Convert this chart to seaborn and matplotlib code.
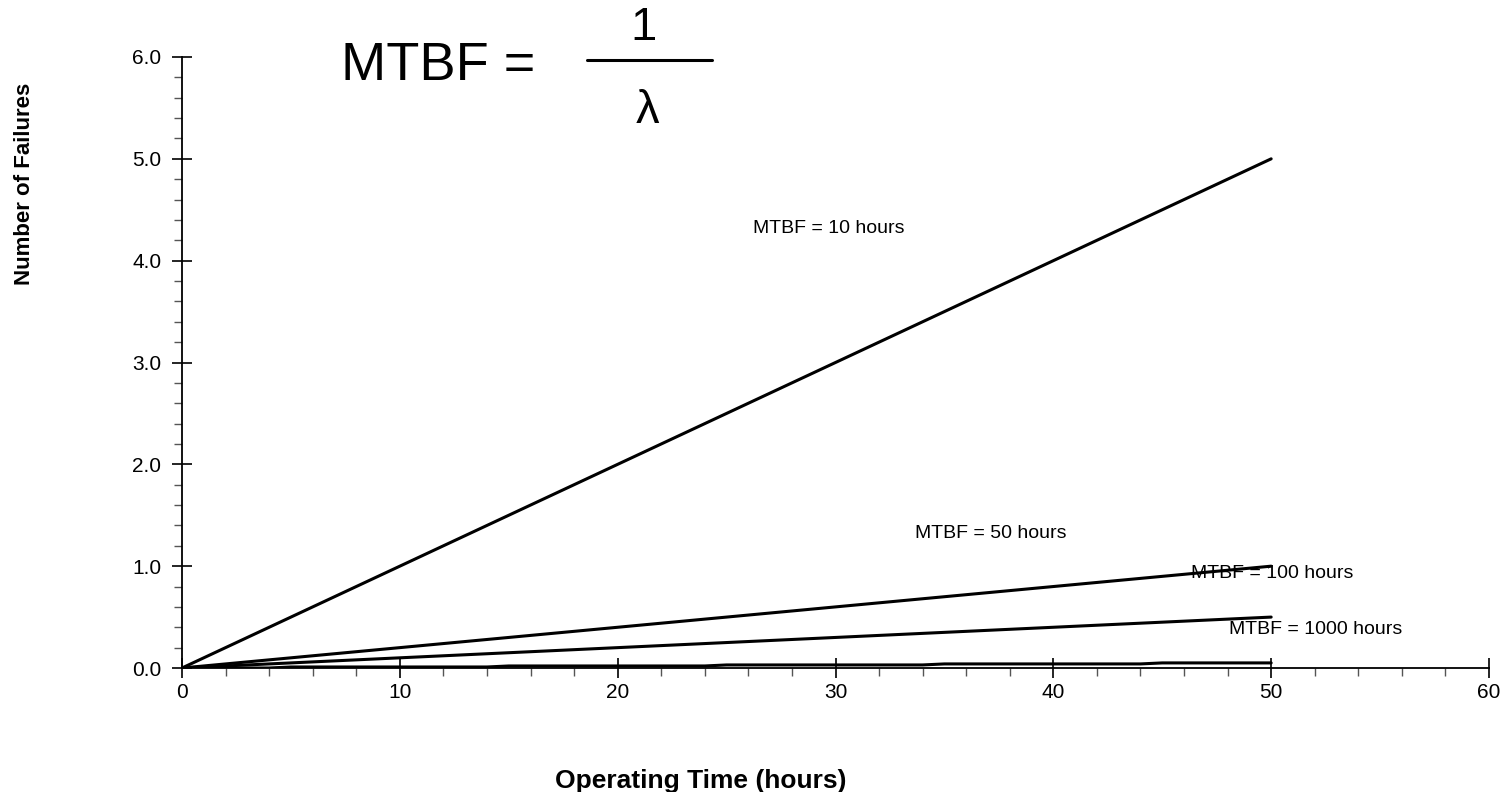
import matplotlib
matplotlib.use('Agg')
import matplotlib.pyplot as plt
from matplotlib.lines import Line2D
from matplotlib.ticker import MultipleLocator, FormatStrFormatter
import pandas as pd
import seaborn as sns

# operating time in hours
hours = list(range(51))

# cumulative failures for each MTBF
mtbf10 = [0.0, 0.1, 0.2, 0.3, 0.4, 0.5, 0.6, 0.7, 0.8, 0.9, 1.0, 1.1, 1.2, 1.3, 1.4, 1.5, 1.6,
          1.7, 1.8, 1.9, 2.0, 2.1, 2.2, 2.3, 2.4, 2.5, 2.6, 2.7, 2.8, 2.9, 3.0, 3.1, 3.2, 3.3,
          3.4, 3.5, 3.6, 3.7, 3.8, 3.9, 4.0, 4.1, 4.2, 4.3, 4.4, 4.5, 4.6, 4.7, 4.8, 4.9, 5.0]
mtbf50 = [0.00, 0.02, 0.04, 0.06, 0.08, 0.10, 0.12, 0.14, 0.16, 0.18, 0.20, 0.22, 0.24, 0.26,
          0.28, 0.30, 0.32, 0.34, 0.36, 0.38, 0.40, 0.42, 0.44, 0.46, 0.48, 0.50, 0.52, 0.54,
          0.56, 0.58, 0.60, 0.62, 0.64, 0.66, 0.68, 0.70, 0.72, 0.74, 0.76, 0.78, 0.80, 0.82,
          0.84, 0.86, 0.88, 0.90, 0.92, 0.94, 0.96, 0.98, 1.00]
mtbf100 = [0.00, 0.01, 0.02, 0.03, 0.04, 0.05, 0.06, 0.07, 0.08, 0.09, 0.10, 0.11, 0.12, 0.13,
           0.14, 0.15, 0.16, 0.17, 0.18, 0.19, 0.20, 0.21, 0.22, 0.23, 0.24, 0.25, 0.26, 0.27,
           0.28, 0.29, 0.30, 0.31, 0.32, 0.33, 0.34, 0.35, 0.36, 0.37, 0.38, 0.39, 0.40, 0.41,
           0.42, 0.43, 0.44, 0.45, 0.46, 0.47, 0.48, 0.49, 0.50]
mtbf1000 = [0.00, 0.00, 0.00, 0.00, 0.00, 0.01, 0.01, 0.01, 0.01, 0.01, 0.01, 0.01, 0.01, 0.01,
            0.01, 0.02, 0.02, 0.02, 0.02, 0.02, 0.02, 0.02, 0.02, 0.02, 0.02, 0.03, 0.03, 0.03,
            0.03, 0.03, 0.03, 0.03, 0.03, 0.03, 0.03, 0.04, 0.04, 0.04, 0.04, 0.04, 0.04, 0.04,
            0.04, 0.04, 0.04, 0.05, 0.05, 0.05, 0.05, 0.05, 0.05]

series_names = ["MTBF = 10 hours", "MTBF = 50 hours", "MTBF = 100 hours", "MTBF = 1000 hours"]
# where each label sits (data coords)
label_pos = [(26.2, 4.32), (33.65, 1.32), (46.3, 0.93), (48.05, 0.38)]

sns.set_style("ticks")
plt.rcParams['font.family'] = ['Liberation Sans', 'DejaVu Sans']
plt.rcParams['text.color'] = 'black'

df = pd.concat([
    pd.DataFrame({"hours": hours, "failures": vals, "series": name})
    for name, vals in zip(series_names, [mtbf10, mtbf50, mtbf100, mtbf1000])
])

fig = plt.figure(figsize=(15.07, 7.92), dpi=100)
ax = fig.add_axes([182 / 1507, 124 / 792, 1307 / 1507, 611 / 792])

sns.lineplot(data=df, x="hours", y="failures", hue="series",
             palette=["black"] * 4, linewidth=2.2, legend=False, ax=ax)

ax.set_xlim(0, 60)
ax.set_ylim(0, 6)
ax.xaxis.set_major_locator(MultipleLocator(10))
ax.xaxis.set_minor_locator(MultipleLocator(2))
ax.yaxis.set_major_locator(MultipleLocator(1))
ax.yaxis.set_minor_locator(MultipleLocator(0.2))
ax.yaxis.set_major_formatter(FormatStrFormatter("%.1f"))
ax.tick_params(which="major", direction="inout", length=14, width=1.2, labelsize=15,
               colors="black")
ax.tick_params(axis="y", which="major", pad=8)
ax.tick_params(axis="x", which="major", pad=4)
ax.tick_params(which="minor", direction="out", length=6, width=1.0, colors="#555555")
sns.despine(ax=ax)
for side in ["left", "bottom"]:
    ax.spines[side].set_linewidth(1.3)
    ax.spines[side].set_color("black")

ax.set_xlabel("Operating Time (hours)", fontsize=19, fontweight="bold", color="black")
ax.set_ylabel("Number of Failures", fontsize=16, fontweight="bold", color="black",
              family=["Liberation Sans Narrow", "Liberation Sans"])
ax.xaxis.set_label_coords(0.397, -0.165)
ax.yaxis.set_label_coords(-0.1125, 0.792)

for name, (lx, ly) in zip(series_names, label_pos):
    ax.text(lx, ly, name, fontsize=14, va="center", ha="left", color="black")

# formula in the top area
fig.text(341 / 1507, 1 - 80 / 792, "MTBF =", fontsize=39, ha="left", va="baseline")
fig.text(644 / 1507, 1 - 40 / 792, "1", fontsize=34, ha="center", va="baseline")
fig.text(647 / 1507, 1 - 123 / 792, "λ", fontsize=34, ha="center", va="baseline")
fig.add_artist(Line2D([587 / 1507, 712 / 1507], [1 - 60 / 792, 1 - 60 / 792],
                      color="black", linewidth=2.2, transform=fig.transFigure))

fig.savefig("out.png", dpi=100)
